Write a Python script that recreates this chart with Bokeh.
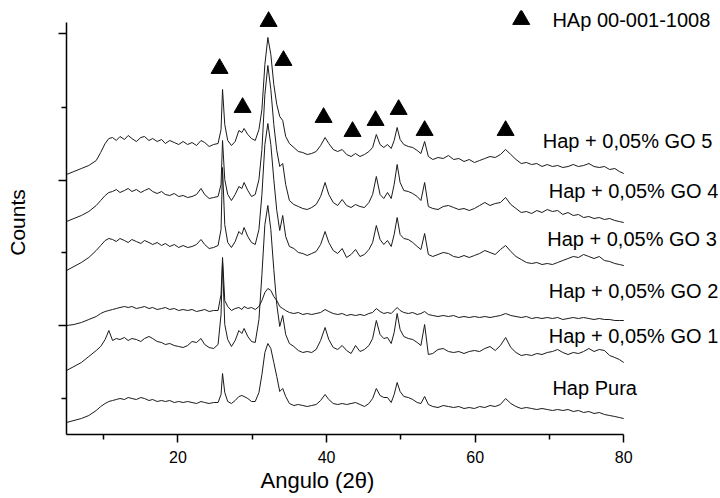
from bokeh.plotting import figure
from bokeh.models import Range1d, FixedTicker, Label, CustomJSTickFormatter, Title
from bokeh.embed import file_html
from bokeh.resources import INLINE

# ---------------- data ----------------
# common 2-theta sampling (degrees)
two_theta = [5, 6, 7, 8, 9, 9.6, 10.2, 10.7,
             11.2, 11.7, 12.2, 12.8, 13.3, 13.8, 14.4, 15.0, 15.5, 16.1, 16.6, 17.2, 17.8, 18.3, 18.9, 19.5,
             20.1, 20.7, 21.3, 21.9, 22.5, 23.1, 23.6, 24.2, 24.8, 25.4,
             25.8, 26.0, 26.3, 26.7, 27.2, 27.7, 28.2, 28.6, 28.9, 29.4, 29.9, 30.4, 30.9, 31.3, 31.7, 32.1,
             32.5, 32.9, 33.3, 33.7, 34.1, 34.5, 35.0,
             35.6, 36.2, 36.8, 37.4, 38.0, 38.6, 39.2, 39.8, 40.3, 40.9, 41.5, 42.1, 42.7, 43.3, 43.9, 44.5,
             45.1, 45.7, 46.2, 46.7, 47.2, 47.7, 48.2, 48.7, 49.1, 49.5, 49.9, 50.4, 51.0, 51.6, 52.2, 52.7,
             53.2, 53.7,
             54.3, 55.0, 55.7, 56.4, 57.1, 57.8, 58.5, 59.2, 59.9, 60.6, 61.3, 62.0, 62.7, 63.4, 64.1, 64.8,
             65.5, 66.2, 66.9, 67.6, 68.3, 69.0, 69.7, 70.4, 71.1, 71.8, 72.5, 73.2, 73.9, 74.6, 75.3, 76.0,
             76.7, 77.4, 78.1, 78.8, 79.4, 80]

# counts (arbitrary units, traces stacked as in the original figure)
go5 = [260, 263, 266, 269, 274, 282, 291, 296,
       297, 294, 298, 295, 299, 296, 293, 297, 298, 294, 296, 293, 295, 291, 294, 292,
       290, 293, 290, 292, 289, 294, 292, 288, 290, 291,
       305, 345, 310, 294, 289, 293, 304, 302, 306, 300, 296, 294, 305, 325, 370, 397,
       380, 350, 330, 318, 314, 298, 291,
       287, 283, 282, 280, 281, 283, 289, 297, 291, 285, 283, 285, 280, 278, 281, 278,
       280, 283, 287, 300, 290, 287, 290, 286, 294, 307, 295, 290, 288, 287, 284, 281,
       293, 278,
       275, 277, 276, 279, 275, 276, 273, 275, 272, 274, 276, 278, 277, 280, 285, 280,
       275, 271, 272, 270, 271, 268, 270, 268, 269, 267, 268, 270, 268, 269, 271, 268,
       267, 268, 265, 266, 263, 261]

go4 = [213, 216, 219, 223, 229, 234, 239, 242,
       243, 245, 242, 244, 246, 243, 245, 242, 244, 246, 243, 241, 243, 240, 239, 241,
       238, 239, 237, 238, 240, 246, 240, 236, 237, 238,
       250, 294, 255, 240, 234, 240, 248, 246, 252, 244, 238, 240, 255, 285, 340, 369,
       345, 310, 284, 268, 271, 250, 234,
       230, 228, 226, 225, 227, 230, 238, 252, 240, 232, 229, 235, 229, 227, 230, 228,
       227, 232, 240, 258, 240, 236, 242, 236, 250, 270, 252, 244, 243, 241, 238, 234,
       252, 228,
       226, 225, 228, 229, 227, 225, 226, 224, 226, 229, 232, 229, 231, 232, 237, 230,
       226, 222, 223, 221, 224, 222, 225, 223, 224, 220, 222, 219, 220, 217, 218, 216,
       217, 215, 216, 214, 213, 212]

go3 = [164, 168, 172, 177, 184, 189, 194, 196,
       195, 193, 196, 194, 192, 195, 193, 191, 194, 192, 190, 192, 189, 191, 188, 190,
       187, 189, 187, 188, 190, 195, 190, 186, 187, 189,
       205, 267, 210, 192, 187, 193, 203, 200, 207, 198, 192, 190, 205, 240, 290, 311,
       290, 255, 224, 204, 219, 198, 188,
       186, 182, 181, 179, 181, 183, 190, 203, 192, 184, 181, 186, 177, 180, 185, 178,
       180, 185, 192, 209, 195, 190, 194, 188, 200, 217, 200, 196, 195, 192, 188, 185,
       201, 180,
       178, 180, 182, 181, 178, 177, 179, 177, 179, 181, 184, 182, 180, 185, 189, 183,
       178, 175, 172, 171, 172, 170, 171, 170, 172, 174, 176, 178, 177, 180, 178, 176,
       178, 174, 173, 171, 170, 169]

go2 = [109, 110, 112, 115, 118, 121, 123, 124,
       125, 126, 127, 128, 127, 128, 126, 127, 128, 126, 127, 125, 126, 127, 125, 126,
       124, 125, 124, 125, 123, 124, 125, 123, 124, 124,
       140, 177, 134, 128, 124, 126, 127, 125, 128, 126, 127, 125, 128, 134, 142, 146,
       144, 138, 134, 128, 126, 124, 122,
       121, 122, 120, 121, 120, 121, 122, 125, 123, 121, 120, 121, 119, 120, 119, 120,
       119, 121, 122, 126, 123, 121, 122, 121, 124, 127, 124, 122, 121, 122, 120, 121,
       123, 120,
       119, 118, 119, 118, 119, 117, 118, 117, 118, 117, 118, 117, 118, 119, 121, 119,
       118, 117, 118, 116, 117, 116, 117, 116, 117, 115, 116, 117, 116, 117, 116, 115,
       116, 115, 115, 114, 114, 114]

go1 = [64, 68, 72, 78, 84, 88, 95, 104,
       94, 96, 95, 97, 94, 96, 95, 93, 96, 98, 96, 93, 92, 90, 91, 89,
       88, 87, 89, 93, 92, 96, 90, 87, 86, 90,
       120, 172, 110, 95, 88, 94, 104, 101, 106, 98, 93, 92, 115, 160, 210, 229,
       205, 165, 130, 108, 119, 100, 91,
       88, 84, 82, 83, 82, 85, 94, 107, 95, 87, 85, 89, 84, 81, 89, 83,
       85, 89, 96, 114, 100, 96, 97, 91, 102, 121, 105, 98, 96, 95, 92, 89,
       110, 80,
       81, 85, 86, 83, 82, 83, 81, 83, 84, 83, 86, 88, 84, 89, 97, 87,
       82, 79, 80, 79, 81, 80, 82, 83, 85, 82, 80, 82, 81, 83, 86, 83,
       85, 84, 79, 77, 75, 72]

pura = [12, 14, 16, 19, 24, 28, 31, 33,
        34, 35, 36, 35, 37, 36, 35, 37, 36, 34, 35, 33, 34, 33, 34, 32,
        33, 32, 33, 32, 31, 33, 32, 31, 32, 32,
        40, 61, 42, 33, 31, 34, 38, 39, 38, 36, 33, 33, 42, 60, 82, 91,
        86, 72, 58, 43, 46, 38, 31,
        29, 30, 29, 28, 29, 30, 34, 40, 35, 31, 30, 31, 30, 31, 32, 30,
        28, 31, 36, 46, 39, 37, 37, 32, 40, 52, 43, 38, 37, 35, 32, 31,
        38, 30,
        28, 27, 29, 28, 27, 28, 26, 27, 26, 28, 27, 29, 28, 30, 36, 31,
        28, 26, 27, 26, 25, 26, 25, 24, 25, 24, 25, 23, 24, 22, 23, 21,
        22, 20, 19, 18, 17, 16]

series = [go5, go4, go3, go2, go1, pura]
series_names = ["Hap + 0,05% GO 5", "Hap + 0,05% GO 4", "Hap + 0,05% GO 3",
                "Hap + 0,05% GO 2", "Hap + 0,05% GO 1", "Hap Pura"]
label_x = [69.1, 69.9, 69.7, 69.9, 69.9, 70.4]
label_y = [294, 244, 196, 144, 99, 47]

# HAp reference (00-001-1008) peak markers
hap_x = [25.6, 28.7, 32.2, 34.2, 39.6, 43.5, 46.6, 49.7, 53.2, 64.1]
hap_y = [366, 327, 413, 374, 317, 303, 314, 325, 304, 304]
hap_name = "HAp 00-001-1008"

x_major = [20, 40, 60, 80]
x_minor = [10, 30, 50, 70]
y_major = [109, 254, 401]
y_minor = [36, 182, 327]

# ---------------- figure ----------------
FONT = "Liberation Sans"
p = figure(width=720, height=498, x_range=Range1d(5, 93.02), y_range=Range1d(0, 424),
           output_backend="svg", toolbar_location=None,
           min_border_left=66, min_border_right=0, min_border_top=10, min_border_bottom=64)
p.outline_line_color = None
p.xgrid.visible = False
p.ygrid.visible = False

for ys in series:
    p.line(two_theta, ys, line_color="#1a1a1a", line_width=1.0)

p.scatter(hap_x, hap_y, marker="triangle", size=17, fill_color="black", line_color="black")
p.scatter([66.2], [415], marker="triangle", size=17, fill_color="black", line_color="black")
p.add_layout(Label(x=70.4, y=415, text=hap_name, text_font=FONT, text_font_size="20px",
                   text_baseline="middle", text_align="left", text_color="black"))

for name, lx, ly in zip(series_names, label_x, label_y):
    p.add_layout(Label(x=lx, y=ly, text=name, text_font=FONT, text_font_size="20px",
                       text_baseline="middle", text_align="left", text_color="black"))

# axes
xa = p.xaxis[0]
xa.ticker = FixedTicker(ticks=x_major, minor_ticks=x_minor)
xa.bounds = (5, 80)
xa.axis_line_width = 1.5
xa.axis_line_color = "black"
xa.major_tick_line_width = 1.5
xa.minor_tick_line_width = 1.5
xa.major_tick_out = 8
xa.major_tick_in = 0
xa.minor_tick_out = 5
xa.minor_tick_in = 0
xa.major_label_text_font = FONT
xa.major_label_text_font_size = "16px"
xa.major_label_text_color = "black"
xa.major_label_standoff = 8

p.add_layout(Title(text="Angulo (2\u03b8)", text_font=FONT, text_font_size="22px",
                   text_font_style="normal", text_color="black", align="left",
                   offset=194, standoff=0), "below")

ya = p.yaxis[0]
ya.ticker = FixedTicker(ticks=y_major, minor_ticks=y_minor)
ya.formatter = CustomJSTickFormatter(code="return ''")
ya.bounds = (0, 412)
ya.axis_line_width = 1.5
ya.axis_line_color = "black"
ya.major_tick_line_width = 1.5
ya.minor_tick_line_width = 1.5
ya.major_tick_out = 8
ya.major_tick_in = 0
ya.minor_tick_out = 5
ya.minor_tick_in = 0
ya.major_label_standoff = 0
ya.axis_label = "Counts"
ya.axis_label_text_font = FONT
ya.axis_label_text_font_size = "21px"
ya.axis_label_text_font_style = "normal"
ya.axis_label_text_color = "black"
ya.axis_label_standoff = 30

open("out.html", "w").write(file_html(p, INLINE))
